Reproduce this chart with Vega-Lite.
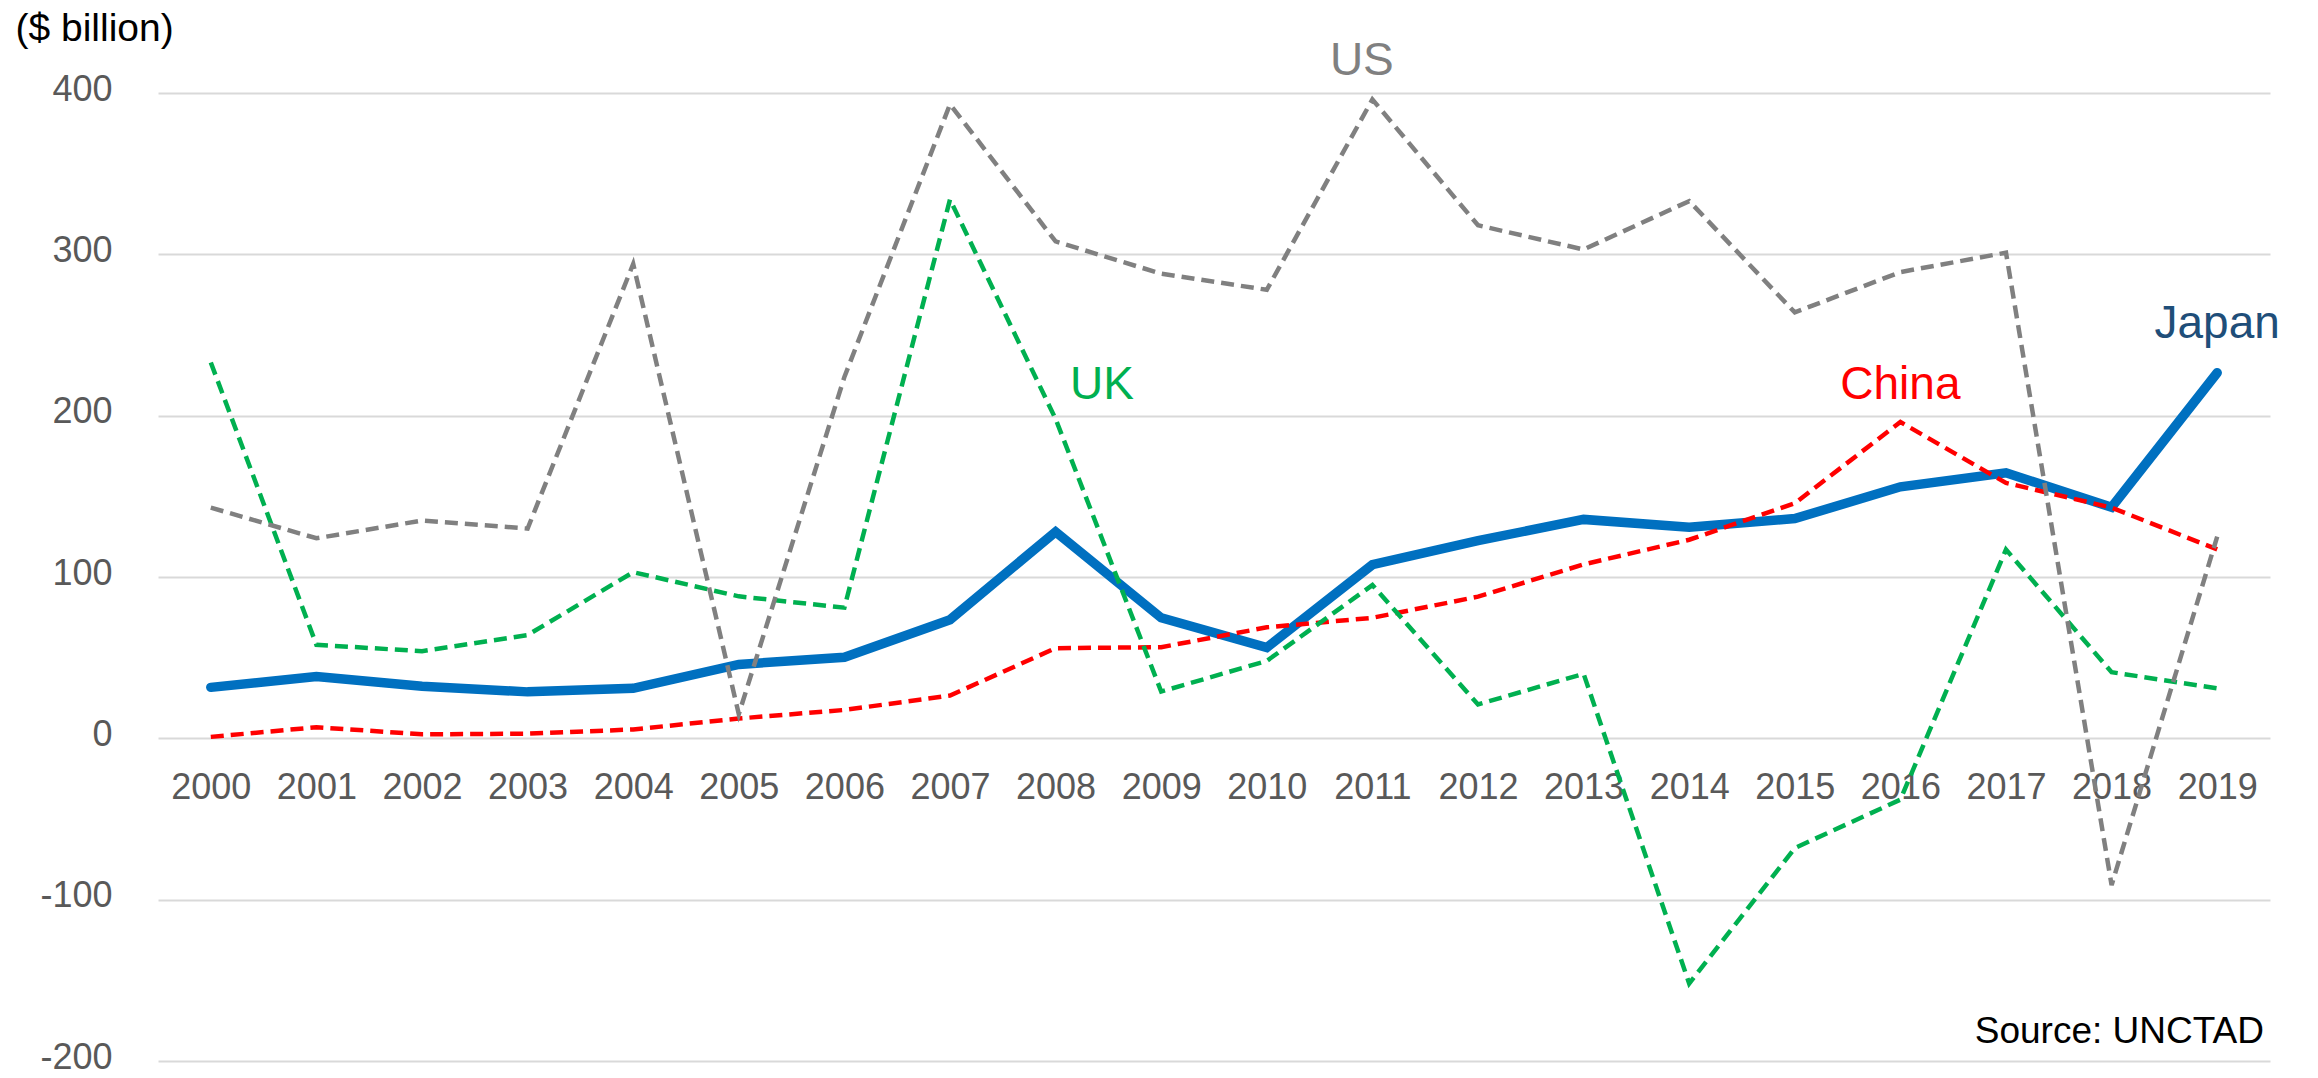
{
  "$schema": "https://vega.github.io/schema/vega-lite/v6.json",
  "width": 2112,
  "height": 968,
  "autosize": {"type": "none"},
  "padding": {"left": 158, "top": 93, "right": 48, "bottom": 17},
  "background": "white",
  "config": {
    "view": {"stroke": null},
    "font": "Liberation Sans",
    "axis": {"labelFont": "Liberation Sans", "titleFont": "Liberation Sans"},
    "text": {"font": "Liberation Sans"}
  },
  "datasets": {
    "fdi": [
      {"year": 2000, "country": "Japan", "value": 31.6},
      {"year": 2001, "country": "Japan", "value": 38.3},
      {"year": 2002, "country": "Japan", "value": 32.3},
      {"year": 2003, "country": "Japan", "value": 28.8},
      {"year": 2004, "country": "Japan", "value": 31.0},
      {"year": 2005, "country": "Japan", "value": 45.8},
      {"year": 2006, "country": "Japan", "value": 50.3},
      {"year": 2007, "country": "Japan", "value": 73.5},
      {"year": 2008, "country": "Japan", "value": 128.0},
      {"year": 2009, "country": "Japan", "value": 74.7},
      {"year": 2010, "country": "Japan", "value": 56.3},
      {"year": 2011, "country": "Japan", "value": 107.6},
      {"year": 2012, "country": "Japan", "value": 122.5},
      {"year": 2013, "country": "Japan", "value": 135.7},
      {"year": 2014, "country": "Japan", "value": 130.8},
      {"year": 2015, "country": "Japan", "value": 136.2},
      {"year": 2016, "country": "Japan", "value": 155.9},
      {"year": 2017, "country": "Japan", "value": 164.6},
      {"year": 2018, "country": "Japan", "value": 143.2},
      {"year": 2019, "country": "Japan", "value": 226.6},
      {"year": 2000, "country": "China", "value": 0.9},
      {"year": 2001, "country": "China", "value": 6.9},
      {"year": 2002, "country": "China", "value": 2.5},
      {"year": 2003, "country": "China", "value": 2.9},
      {"year": 2004, "country": "China", "value": 5.5},
      {"year": 2005, "country": "China", "value": 12.3},
      {"year": 2006, "country": "China", "value": 17.6},
      {"year": 2007, "country": "China", "value": 26.5},
      {"year": 2008, "country": "China", "value": 55.9},
      {"year": 2009, "country": "China", "value": 56.5},
      {"year": 2010, "country": "China", "value": 68.8},
      {"year": 2011, "country": "China", "value": 74.7},
      {"year": 2012, "country": "China", "value": 87.8},
      {"year": 2013, "country": "China", "value": 107.8},
      {"year": 2014, "country": "China", "value": 123.1},
      {"year": 2015, "country": "China", "value": 145.7},
      {"year": 2016, "country": "China", "value": 196.1},
      {"year": 2017, "country": "China", "value": 158.3},
      {"year": 2018, "country": "China", "value": 143.0},
      {"year": 2019, "country": "China", "value": 117.1},
      {"year": 2000, "country": "UK", "value": 233},
      {"year": 2001, "country": "UK", "value": 58},
      {"year": 2002, "country": "UK", "value": 54},
      {"year": 2003, "country": "UK", "value": 64},
      {"year": 2004, "country": "UK", "value": 103},
      {"year": 2005, "country": "UK", "value": 88},
      {"year": 2006, "country": "UK", "value": 81},
      {"year": 2007, "country": "UK", "value": 334},
      {"year": 2008, "country": "UK", "value": 198},
      {"year": 2009, "country": "UK", "value": 29},
      {"year": 2010, "country": "UK", "value": 48},
      {"year": 2011, "country": "UK", "value": 95},
      {"year": 2012, "country": "UK", "value": 21},
      {"year": 2013, "country": "UK", "value": 40},
      {"year": 2014, "country": "UK", "value": -152},
      {"year": 2015, "country": "UK", "value": -68},
      {"year": 2016, "country": "UK", "value": -38},
      {"year": 2017, "country": "UK", "value": 117},
      {"year": 2018, "country": "UK", "value": 41},
      {"year": 2019, "country": "UK", "value": 31},
      {"year": 2000, "country": "US", "value": 143},
      {"year": 2001, "country": "US", "value": 124},
      {"year": 2002, "country": "US", "value": 135},
      {"year": 2003, "country": "US", "value": 130},
      {"year": 2004, "country": "US", "value": 294},
      {"year": 2005, "country": "US", "value": 15},
      {"year": 2006, "country": "US", "value": 224},
      {"year": 2007, "country": "US", "value": 393},
      {"year": 2008, "country": "US", "value": 308},
      {"year": 2009, "country": "US", "value": 288},
      {"year": 2010, "country": "US", "value": 278},
      {"year": 2011, "country": "US", "value": 396},
      {"year": 2012, "country": "US", "value": 318},
      {"year": 2013, "country": "US", "value": 303},
      {"year": 2014, "country": "US", "value": 333},
      {"year": 2015, "country": "US", "value": 264},
      {"year": 2016, "country": "US", "value": 289},
      {"year": 2017, "country": "US", "value": 301},
      {"year": 2018, "country": "US", "value": -91},
      {"year": 2019, "country": "US", "value": 125}
    ],
    "labels": [
      {"label": "US", "year": 2010.9, "value": 420},
      {"label": "UK", "year": 2008.44, "value": 219},
      {"label": "China", "year": 2016.0, "value": 219},
      {"label": "Japan", "year": 2019.0, "value": 257}
    ],
    "source": [
      {"text": "Source: UNCTAD", "year": 2019.5, "value": -182}
    ]
  },
  "layer": [
    {
      "data": {"name": "fdi"},
      "transform": [{"filter": "datum.country === 'Japan'"}],
      "mark": {"type": "line", "color": "#0070C0", "strokeWidth": 9.5, "strokeJoin": "miter", "strokeCap": "round"},
      "encoding": {
        "x": {
          "field": "year", "type": "quantitative",
          "scale": {"domain": [1999.5, 2019.5], "nice": false, "zero": false},
          "axis": {
            "values": [2000,2001,2002,2003,2004,2005,2006,2007,2008,2009,2010,2011,2012,2013,2014,2015,2016,2017,2018,2019],
            "format": "d", "title": null, "grid": false, "domain": false, "ticks": false,
            "labelFontSize": 36, "labelColor": "#595959", "labelPadding": 32,
            "offset": -322.7, "labelFlush": false
          }
        },
        "y": {
          "field": "value", "type": "quantitative",
          "scale": {"domain": [-200, 400], "nice": false},
          "axis": {
            "values": [-200, -100, 0, 100, 200, 300, 400],
            "labelExpr": "datum.value < 0 ? '-' + abs(datum.value) : '' + datum.value",
            "title": "($ billion)", "titleAngle": 0, "titleAlign": "left", "titleBaseline": "middle",
            "titleX": -143, "titleY": -65, "titleFontSize": 39, "titleFontWeight": "normal", "titleColor": "#000000",
            "grid": true, "gridColor": "#d9d9d9", "gridWidth": 2,
            "domain": false, "ticks": false,
            "labelFontSize": 36, "labelColor": "#595959", "labelPadding": 46, "labelOffset": -4
          }
        }
      }
    },
    {
      "data": {"name": "fdi"},
      "transform": [{"filter": "datum.country !== 'Japan'"}],
      "mark": {"type": "line", "strokeWidth": 4.5, "strokeDash": [13, 7], "strokeJoin": "miter"},
      "encoding": {
        "x": {"field": "year", "type": "quantitative"},
        "y": {"field": "value", "type": "quantitative"},
        "color": {
          "field": "country", "type": "nominal",
          "scale": {"domain": ["China", "UK", "US"], "range": ["#FF0000", "#00B050", "#808080"]},
          "legend": null
        }
      }
    },
    {
      "data": {"name": "labels"},
      "mark": {"type": "text", "fontSize": 46, "align": "center", "baseline": "middle"},
      "encoding": {
        "x": {"field": "year", "type": "quantitative"},
        "y": {"field": "value", "type": "quantitative"},
        "text": {"field": "label"},
        "color": {
          "field": "label", "type": "nominal",
          "scale": {"domain": ["US", "UK", "China", "Japan"], "range": ["#808080", "#00B050", "#FF0000", "#1F4E79"]},
          "legend": null
        }
      }
    },
    {
      "data": {"name": "source"},
      "mark": {"type": "text", "fontSize": 37, "align": "right", "baseline": "middle", "color": "#000000", "dx": -6},
      "encoding": {
        "x": {"field": "year", "type": "quantitative"},
        "y": {"field": "value", "type": "quantitative"},
        "text": {"field": "text"}
      }
    }
  ],
  "resolve": {"scale": {"color": "independent"}}
}
